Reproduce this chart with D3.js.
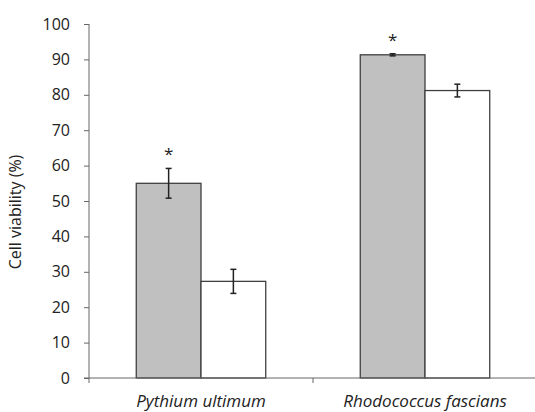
<!DOCTYPE html>
<html>
<head>
<meta charset="utf-8">
<script src="https://cdn.jsdelivr.net/npm/d3@7"></script>
<style>
  body { margin: 0; background: #fff; }
  text { font-family: 'Open Sans', 'Liberation Sans', sans-serif; fill: #222; }
</style>
</head>
<body>
<div id="chart"></div>
<script>
const categories = ['Pythium ultimum', 'Rhodococcus fascians']
const series = ['treated', 'control']
const means = [[55, 27.3], [91.3, 81.2]]
const errors = [[4.2, 3.4], [0.3, 1.8]]
const significant = [[true, false], [true, false]]
const yTicks = [0, 10, 20, 30, 40, 50, 60, 70, 80, 90, 100]

const margin = { top: 24, left: 89, right: -2, bottom: 34 }
const width = 535 - margin.left - margin.right
const height = 412 - margin.top - margin.bottom

const svg = d3
  .select('#chart')
  .append('svg')
  .attr('width', 535)
  .attr('height', 412)
  .append('g')
  .attr('transform', 'translate(' + margin.left + ',' + margin.top + ')')

const xScale = d3
  .scaleBand()
  .domain(categories)
  .range([0, width])

const innerScale = d3
  .scaleBand()
  .domain(series)
  .range([0, xScale.bandwidth()])
  .paddingOuter(0.73)

const yScale = d3
  .scaleLinear()
  .domain([0, 100])
  .range([height, 0])

const colors = { treated: '#c0c0c0', control: '#ffffff' }

const rows = []
categories.forEach((c, i) => {
  series.forEach((s, j) => {
    rows.push({ cat: c, ser: s, v: means[i][j], e: errors[i][j], sig: significant[i][j] })
  })
})

// axes
const yAxis = d3.axisLeft(yScale).tickValues(yTicks).tickSize(5).tickPadding(14)
svg.append('g')
  .attr('class', 'y-axis')
  .call(yAxis)
  .call(g => g.select('.domain').attr('stroke', '#666').attr('d', 'M0,' + height + 'V0'))
  .call(g => g.selectAll('.tick line').attr('stroke', '#666'))
  .call(g => g.selectAll('.tick text').style('font-size', '16px').attr('fill', '#222'))

const bars = svg.append('g')
bars.selectAll('rect')
  .data(rows)
  .enter()
  .append('rect')
  .attr('x', d => xScale(d.cat) + innerScale(d.ser))
  .attr('y', d => yScale(d.v))
  .attr('width', innerScale.bandwidth())
  .attr('height', d => height - yScale(d.v))
  .attr('fill', d => colors[d.ser])
  .attr('stroke', '#404040')
  .attr('stroke-width', 1.3)

// error bars
const err = svg.append('g').attr('stroke', '#222').attr('stroke-width', 1.5)
rows.forEach(d => {
  const cx = xScale(d.cat) + innerScale(d.ser) + innerScale.bandwidth() / 2
  const y1 = yScale(d.v + d.e)
  const y2 = yScale(d.v - d.e)
  err.append('line').attr('x1', cx).attr('x2', cx).attr('y1', y1).attr('y2', y2)
  err.append('line').attr('x1', cx - 3).attr('x2', cx + 3).attr('y1', y1).attr('y2', y1)
  err.append('line').attr('x1', cx - 3).attr('x2', cx + 3).attr('y1', y2).attr('y2', y2)
})

svg.selectAll('.star')
  .data(rows.filter(d => d.sig))
  .enter()
  .append('text')
  .attr('class', 'star')
  .attr('x', d => xScale(d.cat) + innerScale(d.ser) + innerScale.bandwidth() / 2)
  .attr('y', d => yScale(d.v + d.e) - 8)
  .attr('text-anchor', 'middle')
  .style('font-size', '17px')
  .text('*')

const xAxis = d3.axisBottom(xScale).tickSize(0).tickPadding(0)
svg.append('g')
  .attr('class', 'x-axis')
  .attr('transform', 'translate(0,' + height + ')')
  .call(xAxis)
  .call(g => g.select('.domain').attr('stroke', '#666').attr('d', 'M-5,0H' + width))
  .call(g => g.selectAll('.tick line').remove())
  .call(g => g.selectAll('.tick text')
    .attr('y', 17)
    .attr('dy', '0.71em')
    .style('font-size', '17px')
    .style('font-style', 'italic')
    .attr('fill', '#222'))

// category separator ticks
svg.append('g')
  .selectAll('line')
  .data(categories)
  .enter()
  .append('line')
  .attr('x1', d => xScale(d))
  .attr('x2', d => xScale(d))
  .attr('y1', height)
  .attr('y2', height + 5)
  .attr('stroke', '#666')

svg.append('text')
  .attr('transform', 'rotate(-90)')
  .attr('x', -height / 2 - 11)
  .attr('y', -68)
  .attr('text-anchor', 'middle')
  .style('font-size', '16px')
  .text('Cell viability (%)')
</script>
</body>
</html>
